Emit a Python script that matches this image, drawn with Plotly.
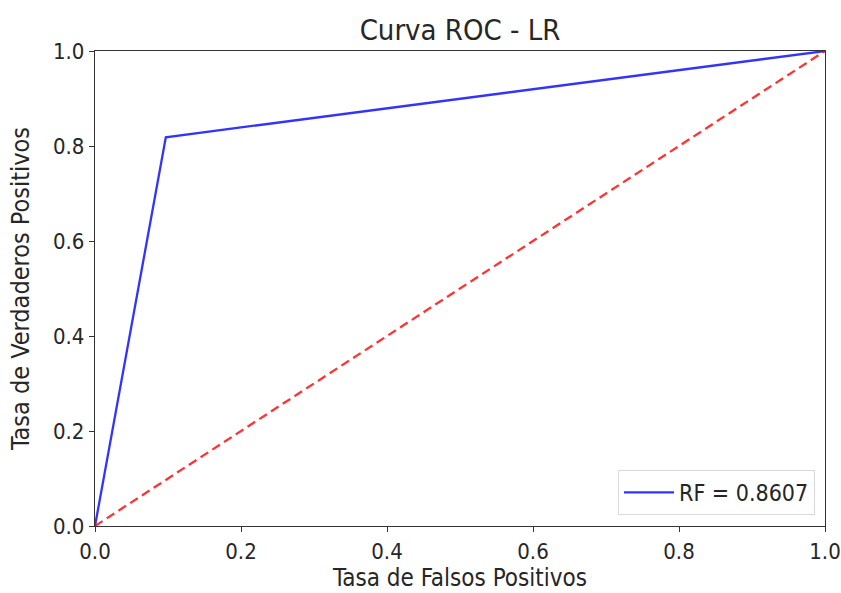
import plotly.graph_objects as go

# ROC curve points
fpr = [0.0, 0.097, 1.0]
tpr = [0.0, 0.8184, 1.0]
auc_label = "RF = 0.8607"

# chance line
diag_x = [0.0, 1.0]
diag_y = [0.0, 1.0]

tick_vals = [0.0, 0.2, 0.4, 0.6, 0.8, 1.0]
tick_text = ["0.0", "0.2", "0.4", "0.6", "0.8", "1.0"]

font_family = "DejaVu Sans Condensed, DejaVu Sans, sans-serif"
text_color = "#262626"

fig = go.Figure()
fig.add_trace(go.Scatter(
    x=fpr, y=tpr, mode="lines", name=auc_label,
    line=dict(color="rgba(0,0,255,0.8)", width=2.3),
))
fig.add_trace(go.Scatter(
    x=diag_x, y=diag_y, mode="lines", showlegend=False,
    line=dict(color="rgba(255,0,0,0.8)", width=2.3, dash="9px,5px"),
))

axis_common = dict(
    range=[0, 1], tickvals=tick_vals, ticktext=tick_text,
    showgrid=False, zeroline=False, showline=True, mirror=True,
    linecolor="#333333", linewidth=1.3,
    ticks="outside", ticklen=5, tickcolor="#333333", tickwidth=1.2,
    tickfont=dict(family=font_family, size=22, color=text_color),
    ticklabeloverflow="allow",
    fixedrange=True,
)

fig.update_layout(
    width=841, height=593,
    margin=dict(l=95, r=16, t=51, b=67),
    paper_bgcolor="white", plot_bgcolor="white",
    title=dict(text="Curva ROC - LR", x=0.5, xanchor="center", xref="paper",
               y=1 - 30 / 593, yanchor="middle",
               font=dict(family=font_family, size=29, color=text_color)),
    xaxis=dict(axis_common, automargin=False,
               title=dict(text="Tasa de Falsos Positivos", standoff=6,
                          font=dict(family=font_family, size=24, color=text_color))),
    yaxis=dict(axis_common, automargin=True,
               title=dict(text="Tasa de Verdaderos Positivos", standoff=16,
                          font=dict(family=font_family, size=25, color=text_color))),
    legend=dict(x=1 - 10 / 730, y=11 / 475, xanchor="right", yanchor="bottom",
                itemwidth=50,
                bgcolor="rgba(255,255,255,0.8)", bordercolor="#d9d9d9", borderwidth=1,
                font=dict(family=font_family, size=23, color=text_color)),
)

fig.write_html("out.html")
